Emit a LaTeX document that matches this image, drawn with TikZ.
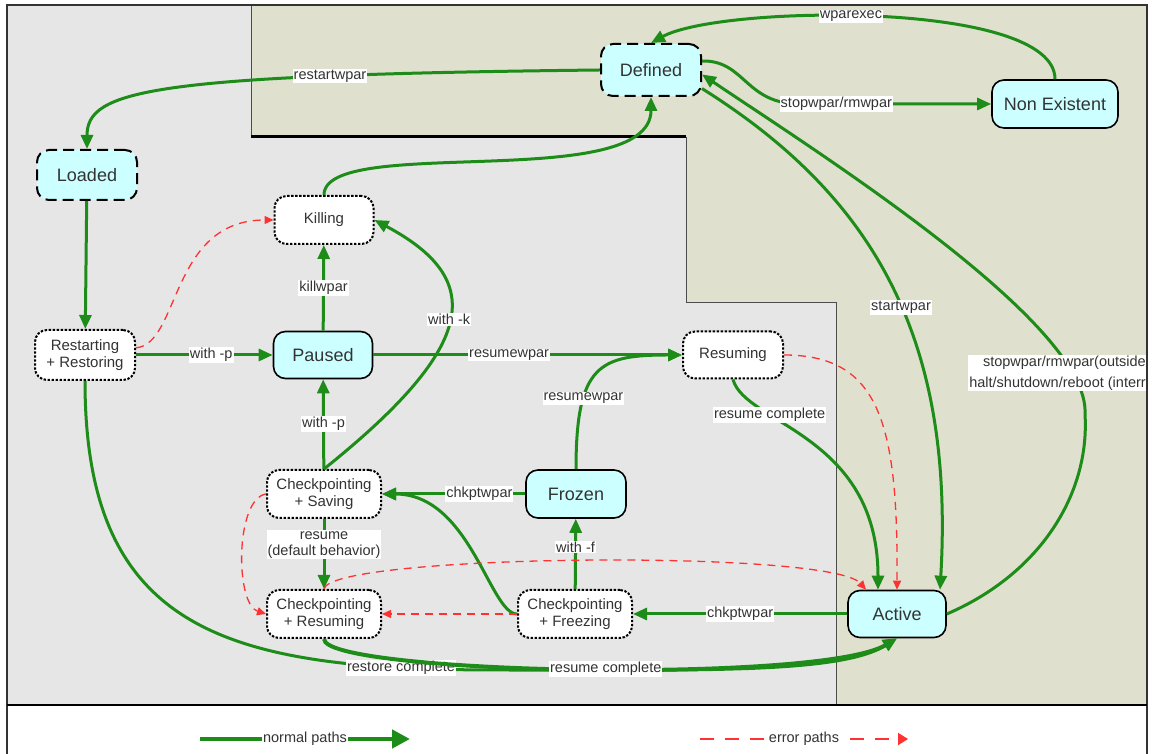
\documentclass[tikz,border=0pt]{standalone}
\usepackage{fontspec}
\setmainfont{Liberation Sans}
\usetikzlibrary{arrows.meta,positioning}

\definecolor{okgreen}{RGB}{30,140,25}
\definecolor{errred}{RGB}{255,50,50}
\definecolor{zonegrey}{RGB}{230,230,230}
\definecolor{zonekhaki}{RGB}{223,224,206}
\definecolor{statecyan}{RGB}{204,255,255}

\tikzset{
  state/.style={rectangle, rounded corners=12pt, draw=black, line width=1.6pt,
    fill=statecyan, text=black!80, font=\fontsize{18}{20}\selectfont,
    minimum width=100pt, minimum height=48pt},
  dstate/.style={state, line width=2pt, dash pattern=on 11pt off 6pt},
  tstate/.style={state, fill=white, line width=2pt, dash pattern=on 2.4pt off 1.6pt,
    font=\fontsize{15}{17}\selectfont, align=center},
  okpath/.style={draw=okgreen, line width=3pt, -{Triangle[length=14pt,width=12pt]}},
  errpath/.style={draw=errred, line width=1.3pt, dash pattern=on 8pt off 6pt,
    -{Triangle[length=9pt,width=8pt]}},
  lbl/.style={fill=white, inner sep=1pt, text=black!80, font=\fontsize{14.5}{16}\selectfont},
}

\begin{document}
\begin{tikzpicture}[x=1pt,y=1pt]
  \useasboundingbox (0,0) rectangle (1153,754);
  % Zones
  \fill[zonegrey] (7,49) rectangle (1147,749);
  \fill[zonekhaki] (251,749) -- (1147,749) -- (1147,49) -- (836,49) -- (836,451)
    -- (686,451) -- (686,617) -- (251,617) -- cycle;
  \draw[black!70, line width=1pt] (251,749) -- (251,617);
  \draw[black, line width=3pt] (251,617) -- (686,617);
  \draw[black!70, line width=1pt] (686,617) -- (686,451) -- (836,451) -- (836,49);

  % States
  \node[dstate, minimum height=52pt] (defined) at (651,684) {Defined};
  \node[state, minimum width=126pt] (nonex) at (1055,650) {Non Existent};
  \node[dstate, minimum height=50pt] (loaded) at (87,579) {Loaded};
  \node[tstate, minimum width=99pt] (killing) at (324,534) {Killing};
  \node[tstate, minimum height=50pt] (restart) at (85,399) {Restarting\\+ Restoring};
  \node[state, minimum width=99pt, minimum height=47pt] (paused) at (323,399) {Paused};
  \node[tstate, minimum height=47pt] (resuming) at (733,399) {Resuming};
  \node[tstate, minimum width=114pt] (cksave) at (324,260) {Checkpointing\\+ Saving};
  \node[state] (frozen) at (576,260) {Frozen};
  \node[tstate, minimum width=114pt] (ckresume) at (324,140) {Checkpointing\\+ Resuming};
  \node[tstate, minimum width=114pt] (ckfreeze) at (575,140) {Checkpointing\\+ Freezing};
  \node[state, minimum width=98pt, minimum height=47pt] (active) at (897,140) {Active};

  % Normal paths
  \draw[okpath] (nonex.north) .. controls (1055,754) and (720,749) .. (defined.north)
    node[lbl, pos=.55] {wparexec};
  \draw[okpath] (defined.10) .. controls (745,694) and (745,650) .. (800,650) -- (nonex.west)
    node[lbl, pos=.19] {stopwpar/rmwpar};
  \draw[okpath] (defined.west) .. controls (150,679) and (87,664) .. (loaded.north)
    node[lbl, pos=.25] {restartwpar};
  \draw[okpath] (killing.north) .. controls (324,620) and (651,560) .. (defined.south);
  \draw[okpath] (loaded) -- (restart);
  \draw[okpath] (restart) -- node[lbl, pos=.55] {with -p} (paused);
  \draw[okpath] (paused) -- node[lbl] {killwpar} (killing);
  \draw[okpath] (paused) -- node[lbl, pos=.44] {resumewpar} (resuming);
  \draw[okpath] (cksave) -- node[lbl] {with -p} (paused);
  \draw[okpath] (cksave.north) .. controls (480,410) and (485,475) .. (killing.east)
    node[lbl, pos=.5] {with -k};
  \draw[okpath] (frozen) -- node[lbl, pos=.32] {chkptwpar} (cksave);
  \draw[okpath] (frozen.north) .. controls (576,390) and (600,399) .. (resuming.west)
    node[lbl, pos=.3] {resumewpar};
  \draw[okpath] (cksave) -- node[lbl, align=center, pos=.37] {resume\\(default behavior)} (ckresume);
  \draw[okpath] (ckfreeze.west) .. controls (490,140) and (470,260) .. (cksave.east);
  \draw[okpath] (ckfreeze) -- node[lbl, pos=.6] {with -f} (frozen);
  \draw[okpath] (active) -- node[lbl] {chkptwpar} (ckfreeze);
  \draw[okpath] (restart.south) .. controls (85,120) and (230,84) .. (500,84)
    node[lbl, pos=.87] {restore complete}
    .. controls (700,84) and (840,80) .. (active.south);
  \draw[okpath, line width=4pt] (ckresume.south) .. controls (324,80) and (820,70) .. (active.south)
    node[lbl, pos=.53] {resume complete};
  \draw[okpath] (resuming.south) .. controls (745,330) and (878,320) .. ([xshift=-19pt]active.north)
    node[lbl, pos=.3] {resume complete};
  \draw[okpath] (defined.-20) .. controls (870,560) and (955,420) .. ([xshift=43pt]active.north)
    node[lbl, pos=.55] {startwpar};
  \draw[okpath] (active.east) .. controls (1040,180) and (1090,260) .. (1085,340)
    .. controls (1090,430) and (820,600) .. (defined.-5);
  \node[lbl, align=right, anchor=east, font=\fontsize{14.5}{21}\selectfont] (stoplbl) at (1147,381)
    {stopwpar/rmwpar(outside\\halt/shutdown/reboot (interr};

  % Error paths
  \draw[errpath] (restart.8) .. controls (180,410) and (170,534) .. (killing.west);
  \draw[errpath] (cksave.west) .. controls (235,255) and (235,150) .. (ckresume.west);
  \draw[errpath] (ckresume.north) .. controls (330,200) and (830,205) .. ([xshift=-31pt]active.north);
  \draw[errpath] (ckfreeze.west) -- (ckresume.east);
  \draw[errpath] (resuming.east) .. controls (880,399) and (898,330) .. (active.north);

  % Frame
  \draw[black!80, line width=1.2pt] (7,0) -- (7,749) -- (1147,749) -- (1147,0);
  \draw[black, line width=2pt] (7,49) -- (1147,49);

  % Legend
  \coordinate (okA) at (200,15);
  \coordinate (okB) at (410,15);
  \coordinate (errA) at (700,15);
  \coordinate (errB) at (908,15);
  \draw[okpath, line width=4.5pt, -{Triangle[length=18pt,width=18pt]}] (okA) -- node[lbl] {normal paths} (okB);
  \draw[errpath, line width=2pt, dash pattern=on 14pt off 11pt, -{Triangle[length=10pt,width=12pt]}]
    (errA) -- node[lbl] {error paths} (errB);
\end{tikzpicture}
\end{document}
